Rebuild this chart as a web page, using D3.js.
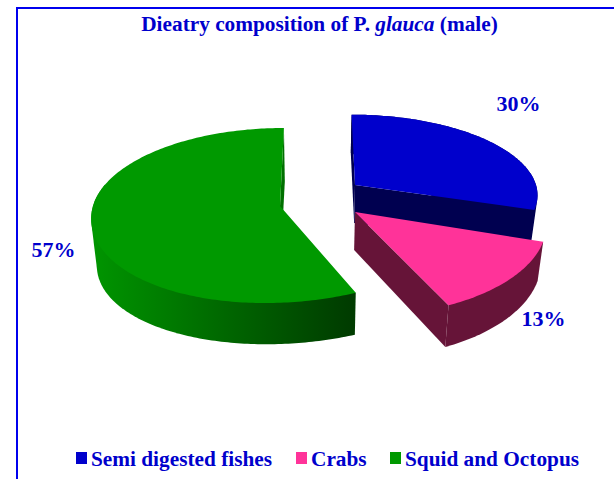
<!DOCTYPE html>
<html><head><meta charset="utf-8">
<script src="https://cdn.jsdelivr.net/npm/d3@7"></script>
<style>html,body{margin:0;padding:0;background:#fff}svg{display:block}text{font-family:"Liberation Serif",serif;font-weight:bold;fill:#0000CC}</style>
</head><body><svg id="c" width="614" height="479"></svg>
<script>
const categories = ["Semi digested fishes", "Crabs", "Squid and Octopus"];
const values = [30, 13, 57];
const valueLabels = ["30%", "13%", "57%"];
const topColors = ["#0000CC", "#FF3399", "#009900"];
const sideColors = ["#000050", "#661438", "url(#greenSide)"];
const cutColors = ["#000050", "#661438", "#007000"];

// layout of the exploded perspective pie
const vx = 320, k = 0.1086, shrink = 0.975, wallLimit = 285 * Math.PI / 180;
const apex = [
  {x:355,y:185,R:181,H:78,d:38,b:0,lean:0,cuts:[0,1]},
  {x:355,y:212,R:190,H:93,d:38,b:0.04,lean:0,cuts:[1]},
  {x:280,y:206,R:187,H:86.5,d:48,b:-0.07,lean:10,cuts:[1]}
];
const labelPos = [[518.5,111],[543.5,326],[53.5,257]];
const legendX = [76,296,390];

const svg = d3.select("#c");
const defs = svg.append("defs");
const g = defs.append("linearGradient").attr("id","greenSide").attr("gradientUnits","userSpaceOnUse")
  .attr("x1",95).attr("x2",350).attr("y1",0).attr("y2",0);
g.append("stop").attr("offset",0).attr("stop-color","#009400");
g.append("stop").attr("offset",1).attr("stop-color","#003C00");

svg.append("path").attr("d","M614,8H17V479").attr("fill","none").attr("stroke","#0000EE").attr("stroke-width",2);

const title = svg.append("text").attr("x",319.5).attr("y",31).attr("text-anchor","middle").attr("font-size",21.3);
title.append("tspan").text("Dieatry composition of P. ");
title.append("tspan").attr("font-style","italic").text("glauca");
title.append("tspan").text(" (male)");

const arcs = d3.pie().sort(null)(values);
function rimPoint(p,t){
  const X=Math.sin(t),Y=Math.cos(t),w=1+k*Y,f=Math.max(0,-Y);
  return [vx+(p.x-vx+p.R*X)/w-p.lean*f*f,p.y-p.H*Y/w];
}
function drop(p,q){return [vx+(q[0]-vx)*shrink,q[1]+p.d+p.b*(q[1]-p.y)];}
const line = d3.line();
function samples(a){const n=Math.ceil((a.endAngle-a.startAngle)*60);return d3.range(n+1).map(i=>a.startAngle+(a.endAngle-a.startAngle)*i/n);}

arcs.forEach((a,i)=>{
  const p=apex[i], ts=samples(a), rim=ts.map(t=>rimPoint(p,t)), c=[p.x,p.y];
  const gs=svg.append("g");
  const front=ts.filter(t=>t<=wallLimit).map(t=>rimPoint(p,t));
  const hull=d3.polygonHull(front.concat(front.map(q=>drop(p,q))));
  gs.append("path").attr("d",line(hull)+"Z").attr("fill",sideColors[i]);
  p.cuts.forEach(j=>{
    const q=j===0?rim[0]:rim[rim.length-1];
    gs.append("path").attr("d",line([c,q,drop(p,q),drop(p,c)])+"Z").attr("fill",cutColors[i]);
  });
  gs.append("path").attr("d",line([c].concat(rim))+"Z").attr("fill",topColors[i]);
});

svg.selectAll("text.val").data(valueLabels).join("text").attr("class","val")
  .attr("x",(d,i)=>labelPos[i][0]).attr("y",(d,i)=>labelPos[i][1]).attr("text-anchor","middle").attr("font-size",22).text(d=>d);

const lg=svg.selectAll("g.leg").data(categories).join("g").attr("class","leg").attr("transform",(d,i)=>`translate(${legendX[i]},0)`);
lg.append("rect").attr("y",452).attr("width",11).attr("height",12).attr("fill",(d,i)=>topColors[i]);
lg.append("text").attr("x",15).attr("y",466).attr("font-size",21.3).text(d=>d);
</script></body></html>
